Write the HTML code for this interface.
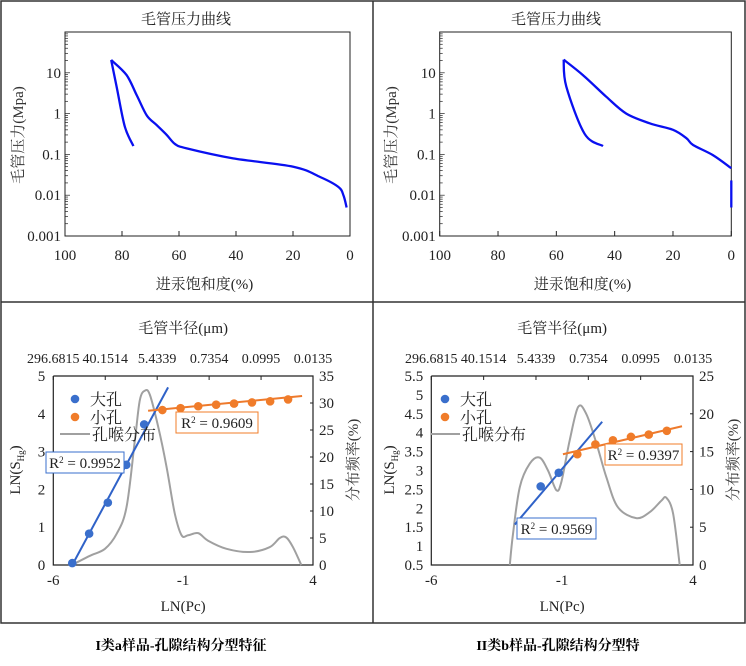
<!DOCTYPE html>
<html><head><meta charset="utf-8"><style>
html,body{margin:0;padding:0;background:#fff;}
svg{display:block;font-family:"Liberation Serif","Noto Serif CJK SC",serif;}
</style></head><body>
<svg id="s" width="746" height="666" viewBox="0 0 746 666" xmlns="http://www.w3.org/2000/svg">
<rect x="1" y="1" width="744" height="622" fill="none" stroke="#333" stroke-width="1.5"/>
<line x1="373" y1="1" x2="373" y2="623" stroke="#333" stroke-width="1.5"/>
<line x1="1" y1="302" x2="745" y2="302" stroke="#333" stroke-width="1.5"/>
<text x="181" y="650" text-anchor="middle" font-size="14" font-weight="bold">I类a样品-孔隙结构分型特征</text>
<text x="558" y="650" text-anchor="middle" font-size="14" font-weight="bold">II类b样品-孔隙结构分型特</text>
</svg>
<script>
// ---- top-left capillary curve data ----
const tlMainSat=[83.8,78.4,74.8,71.3,67.8,64.3,61.4,57.3,41,19.9,10.5,4.1,2.3,1.2];
const tlMainP=[20.6,8.8,2.8,0.9,0.52,0.3,0.18,0.14,0.08,0.05,0.028,0.016,0.01,0.005];
const tlBackSat=[83.8,81.9,79,76];
const tlBackP=[20.6,4.6,0.48,0.16];
// ---- top-right capillary curve data ----
const trMainSat=[57.5,50.9,42.9,36,28,20,15.4,13.1,6.3,0];
const trMainP=[21,8.8,2.6,1.0,0.58,0.4,0.25,0.17,0.096,0.046];
const trTailSat=[0,0];
const trTailP=[0.023,0.005];
const trBackSat=[57.5,56.6,50.3,44];
const trBackP=[21,4.6,0.32,0.16];
const xTicksTop=[100,80,60,40,20,0];
const yTicksTop=[0.001,0.01,0.1,1,10];
const yTickLabelsTop=["0.001","0.01","0.1","1","10"];
// ---- bottom-left fractal data ----
const blBigX=[-5.27,-4.62,-3.9,-3.19,-2.5];
const blBigY=[0.05,0.83,1.65,2.65,3.72];
const blBigLineX=[-5.27,-1.58];
const blBigLineY=[0,4.7];
const blSmallX=[-1.8,-1.1,-0.42,0.27,0.96,1.65,2.35,3.04];
const blSmallY=[4.1,4.15,4.2,4.24,4.27,4.3,4.33,4.38];
const blSmallLineX=[-2.35,3.58];
const blSmallLineY=[4.08,4.47];
const blDistX=[-5.29,-4.59,-4.01,-3.56,-3.18,-2.86,-2.67,-2.47,-2.28,-1.96,-1.64,-1.32,-1.06,-0.81,-0.42,-0.04,0.67,1.57,2.33,2.72,2.97,3.23,3.55];
const blDistY=[0,1.7,3,5.8,10.7,23,30.5,32.3,31.5,25.6,18.2,9.5,5.5,5.5,5.9,4.5,3,2.4,3.3,5,5.1,3.3,0];
// ---- bottom-right fractal data ----
const brBigX=[-1.82,-1.13];
const brBigY=[2.58,2.94];
const brBigLineX=[-2.81,0.53];
const brBigLineY=[1.57,4.29];
const brSmallX=[-0.42,0.27,0.94,1.63,2.31,3.0];
const brSmallY=[3.43,3.69,3.8,3.89,3.95,4.05];
const brSmallLineX=[-0.97,3.58];
const brSmallLineY=[3.43,4.17];
const brDistX=[-3.0,-2.88,-2.62,-2.24,-1.86,-1.54,-1.22,-1.03,-0.71,-0.39,-0.08,0.31,0.69,1.13,1.83,2.35,2.79,2.98,3.24,3.49];
const brDistY=[0,4.1,10.3,13.4,14.2,12.5,9.9,11,16.5,20.9,20,16.1,11.6,7.65,6.2,7.0,8.5,8.9,6.8,0];
const topRadiusLabels=["296.6815","40.1514","5.4339","0.7354","0.0995","0.0135"];
const topRadiusPos=[-6,-4,-2,0,2,4];
const bottomXTicks=[-6,-1,4];

const NS="http://www.w3.org/2000/svg";
const svg=document.getElementById('s');
function mk(tag,attrs,parent){const e=document.createElementNS(NS,tag);for(const k in attrs)e.setAttribute(k,attrs[k]);(parent||svg).appendChild(e);return e;}
function txt(x,y,s,size,anchor,parent,fill){const t=mk('text',{x:x,y:y,'font-size':size,'text-anchor':anchor||'middle',fill:fill||'#222'},parent);t.textContent=s;return t;}
function smoothPath(xs,ys,fx,fy){const p=xs.map((v,i)=>[fx(v),fy(ys[i])]);let d='M'+p[0][0]+','+p[0][1];for(let i=0;i<p.length-1;i++){const p0=p[i-1]||p[i],p1=p[i],p2=p[i+1],p3=p[i+2]||p2;const c1x=p1[0]+(p2[0]-p0[0])/6,c1y=p1[1]+(p2[1]-p0[1])/6,c2x=p2[0]-(p3[0]-p1[0])/6,c2y=p2[1]-(p3[1]-p1[1])/6;d+=' C'+c1x.toFixed(1)+','+c1y.toFixed(1)+' '+c2x.toFixed(1)+','+c2y.toFixed(1)+' '+p2[0].toFixed(1)+','+p2[1].toFixed(1);}return d;}

function capChart(ox,x0,x1,name,series){
  const g=mk('g',{});
  
  
  const y0=32,y1=236;
  const fx=s=>x0+(100-s)/100*(x1-x0);
  const fy=p=>y1-(Math.log10(p)+3)/5*(y1-y0);
  const t=txt(ox+186-(ox?3:0),24,'毛管压力曲线',15,'middle',g);
  
  
  mk('rect',{x:x0,y:y0,width:x1-x0,height:y1-y0,fill:'none',stroke:'#222','stroke-width':1},g);
  for(let d=-3;d<2;d++){for(let m=1;m<10;m++){const yy=fy(m*Math.pow(10,d));mk('line',{x1:x0,x2:x0+(m==1?5:3),y1:yy,y2:yy,stroke:'#222','stroke-width':0.7},g);}}
  yTicksTop.forEach((v,i)=>{const l=txt(x0-4,fy(v)+5,yTickLabelsTop[i],15,'end',g);});
  xTicksTop.forEach(v=>{mk('line',{x1:fx(v),x2:fx(v),y1:y1,y2:y1-5,stroke:'#222'},g);const l=txt(fx(v),260,String(v),15,'middle',g);});
  const xt=txt((x0+x1)/2-3,289,'进汞饱和度(%)',15,'middle',g);
  
  
  const yt=txt(0,0,'毛管压力(Mpa)',15,'middle',g,'#333');
  yt.setAttribute('transform','translate('+(ox+23)+',135) rotate(-90)');
  
  
  series.forEach(s=>{const p=mk('path',{d:smoothPath(s[0],s[1],fx,fy),fill:'none',stroke:'#0a10f0','stroke-width':2.3,'stroke-linejoin':'round'},g);});
}
capChart(0,65,350,'capillary-chart-left',[[tlMainSat,tlMainP,'drainage-curve'],[tlBackSat,tlBackP,'withdrawal-curve']]);
capChart(373,439.7,731.3,'capillary-chart-right',[[trMainSat,trMainP,'drainage-curve'],[trTailSat,trTailP,'drainage-tail'],[trBackSat,trBackP,'withdrawal-curve']]);

function fracChart(o){
  const g=mk('g',{});
  
  
  const {x0,x1}=o,y0=376,y1=565;
  const fx=v=>x0+(v+6)/10*(x1-x0);
  const fy=v=>y1-(v-o.lmin)/(o.lmax-o.lmin)*(y1-y0);
  const fr=v=>y1-v/o.rmax*(y1-y0);
  const t=txt((x0+x1)/2,333,'毛管半径(μm)',15,'middle',g);
  
  
  topRadiusPos.forEach((p,i)=>{const l=txt(fx(p),363,topRadiusLabels[i],14,'middle',g);mk('line',{x1:fx(p),x2:fx(p),y1:y0,y2:y0+4,stroke:'#222'},g);});
  mk('polyline',{points:[x0,y0,x0,y1,x1,y1,x1,y0,x0,y0].join(' '),fill:'none',stroke:'#222','stroke-width':1.2},g);
  for(let v=o.lmin;v<=o.lmax+1e-6;v+=o.lstep){const l=txt(x0-8,fy(v)+5,String(+v.toFixed(1)),15,'end',g);}
  for(let v=0;v<=o.rmax;v+=5){mk('line',{x1:x1,x2:x1-3,y1:fr(v),y2:fr(v),stroke:'#222'},g);const l=txt(x1+6,fr(v)+5,String(v),15,'start',g);}
  bottomXTicks.forEach(v=>{const l=txt(fx(v),585,String(v),15,'middle',g);});
  const xt=txt((x0+x1)/2,611,'LN(Pc)',15,'middle',g);
  
  
  const yl=mk('text',{'font-size':15,'text-anchor':'middle',fill:'#222',transform:'translate('+o.ylx+',470) rotate(-90)'},g);
  yl.innerHTML='LN(S<tspan font-size="9" dy="4">Hg</tspan><tspan dy="-4">)</tspan>';
  
  
  const yr=txt(0,0,'分布频率(%)',15,'middle',g,'#333');
  yr.setAttribute('transform','translate('+(x1+45)+',460) rotate(-90)');
  
  
  const dist=mk('path',{d:smoothPath(o.dx,o.dy,fx,fr),fill:'none',stroke:'#a0a0a0','stroke-width':2},g);
  
  
  const bl=mk('line',{x1:fx(o.blx[0]),y1:fy(o.bly[0]),x2:fx(o.blx[1]),y2:fy(o.bly[1]),stroke:'#2f62c8','stroke-width':2},g);
  
  
  const sl=mk('line',{x1:fx(o.slx[0]),y1:fy(o.sly[0]),x2:fx(o.slx[1]),y2:fy(o.sly[1]),stroke:'#ee7a2c','stroke-width':2},g);
  
  
  o.bx.forEach((v,i)=>{const c=mk('circle',{cx:fx(v),cy:fy(o.by[i]),r:4.3,fill:'#3a6fcc'},g);});
  o.sx.forEach((v,i)=>{const c=mk('circle',{cx:fx(v),cy:fy(o.sy[i]),r:4.3,fill:'#f07c2a'},g);});
  const lg=mk('g',{},g);
  
  
  mk('circle',{cx:o.lgx,cy:399,r:4.3,fill:'#3a6fcc'},lg);
  txt(o.lgx+15,405,'大孔',16,'start',lg);
  mk('circle',{cx:o.lgx,cy:417,r:4.3,fill:'#f07c2a'},lg);
  txt(o.lgx+15,423,'小孔',16,'start',lg);
  mk('line',{x1:o.lglx,x2:o.lgx+15,y1:434,y2:434,stroke:'#a0a0a0','stroke-width':2},lg);
  txt(o.lgx+17,440,'孔喉分布',16,'start',lg);
  [[o.bb,'#3a6fcc',o.br2,'r2-box-large'],[o.ob,'#f07c2a',o.or2,'r2-box-small']].forEach(b=>{const bg=mk('g',{},g);mk('rect',{x:b[0][0],y:b[0][1],width:b[0][2],height:21,fill:'#fff',stroke:b[1],'stroke-width':1},bg);const t=mk('text',{x:b[0][0]+b[0][2]/2,y:b[0][1]+16,'font-size':15,'text-anchor':'middle',fill:'#222'},bg);t.innerHTML='R<tspan font-size="9" dy="-5">2</tspan><tspan dy="5"> = '+b[2]+'</tspan>';});
}
fracChart({name:'fractal-chart-left',x0:53.3,x1:313,lmin:0,lmax:5,lstep:1,rmax:35,ylx:20,
  bx:blBigX,by:blBigY,blx:blBigLineX,bly:blBigLineY,sx:blSmallX,sy:blSmallY,slx:blSmallLineX,sly:blSmallLineY,dx:blDistX,dy:blDistY,
  lgx:75,lglx:60,bb:[46,452,78],ob:[176,412,82],br2:'0.9952',or2:'0.9609'});
fracChart({name:'fractal-chart-right',x0:431.3,x1:693,lmin:0.5,lmax:5.5,lstep:0.5,rmax:25,ylx:394,
  bx:brBigX,by:brBigY,blx:brBigLineX,bly:brBigLineY,sx:brSmallX,sy:brSmallY,slx:brSmallLineX,sly:brSmallLineY,dx:brDistX,dy:brDistY,
  lgx:445,lglx:431,bb:[517,518,79],ob:[605,444,77],br2:'0.9569',or2:'0.9397'});
</script>
</body></html>
